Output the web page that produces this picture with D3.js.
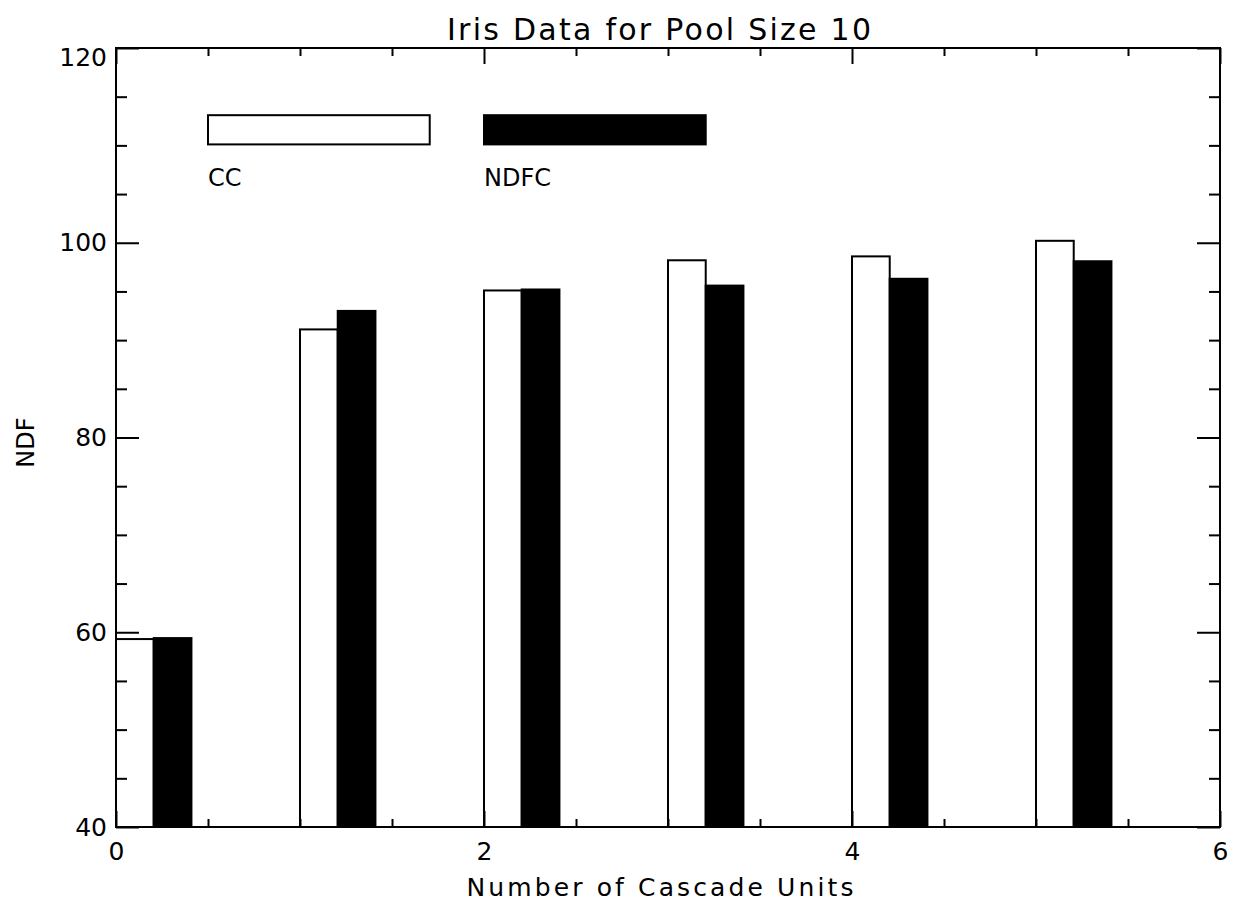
<!DOCTYPE html>
<html><head><meta charset="utf-8">
<script src="https://cdn.jsdelivr.net/npm/d3@7"></script>
<style>body{margin:0;background:#fff}svg{display:block}text{font-family:"DejaVu Sans",sans-serif;fill:#000}</style>
</head><body><svg id="c" width="1235" height="903"></svg>
<script>
const units = [0, 1, 2, 3, 4, 5];
const ccValues = [59.3, 91.1, 95.1, 98.2, 98.6, 100.2];
const ndfcValues = [59.4, 93.0, 95.2, 95.6, 96.3, 98.1];
const xMajorTicks = [0, 2, 4, 6];
const xMinorTicks = [0.5, 1, 1.5, 2.5, 3, 3.5, 4.5, 5, 5.5];
const yMajorTicks = [40, 60, 80, 100, 120];
const yMinorTicks = [45, 50, 55, 65, 70, 75, 85, 90, 95, 105, 110, 115];
const seriesNames = ["CC", "NDFC"];

const svg = d3.select("#c");
const x = d3.scaleLinear().domain([0, 6]).range([116, 1220]);
const y = d3.scaleLinear().domain([40, 120]).range([827, 48]);
const barW = 0.205;

// bars
const g = svg.append("g");
g.selectAll("rect.cc").data(units).join("rect")
  .attr("x", d => x(d)).attr("width", x(barW) - x(0))
  .attr("y", (d, i) => y(ccValues[i])).attr("height", (d, i) => y(40) - y(ccValues[i]))
  .attr("fill", "#fff").attr("stroke", "#000").attr("stroke-width", 2);
g.selectAll("rect.nd").data(units).join("rect")
  .attr("x", d => x(d + barW)).attr("width", x(barW) - x(0))
  .attr("y", (d, i) => y(ndfcValues[i])).attr("height", (d, i) => y(40) - y(ndfcValues[i]))
  .attr("fill", "#000").attr("stroke", "#000").attr("stroke-width", 2);

// legend
const legend = [{x0: 0.5, x1: 1.705, fill: "#fff"}, {x0: 2.0, x1: 3.205, fill: "#000"}];
legend.forEach((l, i) => {
  svg.append("rect").attr("x", x(l.x0)).attr("width", x(l.x1) - x(l.x0))
    .attr("y", y(113.1)).attr("height", y(110.1) - y(113.1))
    .attr("fill", l.fill).attr("stroke", "#000").attr("stroke-width", 2);
  svg.append("text").attr("x", x(l.x0)).attr("y", y(106.7)).attr("dy", "0.36em")
    .attr("font-size", 24).text(seriesNames[i]);
});

// axes
function style(sel) { sel.select(".domain").remove(); sel.selectAll("line").attr("stroke", "#000").attr("stroke-width", 2); sel.selectAll("text").attr("font-size", 25).attr("font-family", "DejaVu Sans").attr("fill", "#000"); }
svg.append("g").attr("transform", `translate(0,${y(40)})`)
  .call(d3.axisBottom(x).tickValues(xMajorTicks).tickSize(-16).tickPadding(15).tickFormat(d3.format("d"))).call(style);
svg.append("g").attr("transform", `translate(0,${y(40)})`)
  .call(d3.axisBottom(x).tickValues(xMinorTicks).tickSize(-8).tickFormat("")).call(style);
svg.append("g").attr("transform", `translate(0,${y(120)})`)
  .call(d3.axisTop(x).tickValues(xMajorTicks).tickSize(-16).tickFormat("")).call(style);
svg.append("g").attr("transform", `translate(0,${y(120)})`)
  .call(d3.axisTop(x).tickValues(xMinorTicks).tickSize(-8).tickFormat("")).call(style);
const yl = svg.append("g").attr("transform", `translate(${x(0)},0)`)
  .call(d3.axisLeft(y).tickValues(yMajorTicks).tickSize(-23).tickPadding(9).tickFormat(d3.format("d"))).call(style);
yl.selectAll(".tick").filter(d => d === 120).select("text").attr("dy", "0.7em");
svg.append("g").attr("transform", `translate(${x(0)},0)`)
  .call(d3.axisLeft(y).tickValues(yMinorTicks).tickSize(-11).tickFormat("")).call(style);
svg.append("g").attr("transform", `translate(${x(6)},0)`)
  .call(d3.axisRight(y).tickValues(yMajorTicks).tickSize(-23).tickFormat("")).call(style);
svg.append("g").attr("transform", `translate(${x(6)},0)`)
  .call(d3.axisRight(y).tickValues(yMinorTicks).tickSize(-11).tickFormat("")).call(style);

// frame
svg.append("rect").attr("x", x(0)).attr("y", y(120)).attr("width", x(6) - x(0)).attr("height", y(40) - y(120))
  .attr("fill", "none").attr("stroke", "#000").attr("stroke-width", 2);

// titles
svg.append("text").attr("x", (x(0) + x(6)) / 2 - 9).attr("y", 40).attr("text-anchor", "middle")
  .attr("font-size", 30).attr("textLength", 424).attr("lengthAdjust", "spacing").text("Iris Data for Pool Size 10");
svg.append("text").attr("x", (x(0) + x(6)) / 2 - 8).attr("y", 896).attr("text-anchor", "middle")
  .attr("font-size", 25).attr("textLength", 387).attr("lengthAdjust", "spacing").text("Number of Cascade Units");
svg.append("text").attr("transform", `translate(34,${(y(40) + y(120)) / 2 + 5}) rotate(-90)`).attr("text-anchor", "middle")
  .attr("font-size", 24).text("NDF");
</script></body></html>
